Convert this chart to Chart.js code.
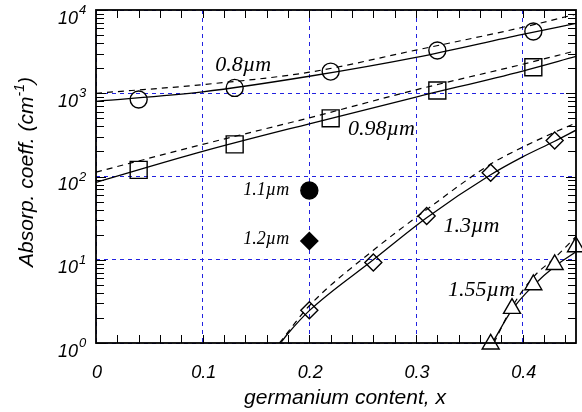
<!DOCTYPE html>
<html><head><meta charset="utf-8">
<script src="https://cdn.jsdelivr.net/npm/chart.js@4/dist/chart.umd.min.js"></script>
<style>html,body{margin:0;padding:0;background:#fff}</style>
</head><body>
<canvas id="c" width="582" height="412"></canvas>
<script>
// ---- data ----
const xTickValues = [0, 0.1, 0.2, 0.3, 0.4];
const xTickLabels = ['0', '0.1', '0.2', '0.3', '0.4'];
const yTickExponents = [0, 1, 2, 3, 4];

// 0.8 um (circles)
const x08 = [0.04, 0.13, 0.22, 0.32, 0.41];
const y08 = [840, 1160, 1820, 3260, 5520];
const x08Solid = [0, 0.1, 0.2, 0.3, 0.4, 0.45];
const y08Solid = [800, 1040, 1600, 2700, 5100, 6900];
const x08Dash = [0, 0.1, 0.2, 0.3, 0.4, 0.45];
const y08Dash = [1000, 1270, 1790, 3300, 6200, 8900];

// 0.98 um (squares)
const x098 = [0.04, 0.13, 0.22, 0.32, 0.41];
const y098 = [120, 243, 500, 1080, 2050];
const x098Solid = [0, 0.1, 0.2, 0.3, 0.4, 0.45];
const y098Solid = [85, 200, 430, 900, 1850, 2770];
const x098Dash = [0, 0.1, 0.2, 0.3, 0.4, 0.45];
const y098Dash = [113, 243, 507, 1100, 2230, 3240];

// 1.1 um and 1.2 um (single filled points)
const x11 = [0.2];
const y11 = [68];
const x12 = [0.2];
const y12 = [16.8];

// 1.3 um (diamonds)
const x13 = [0.2, 0.26, 0.31, 0.37, 0.43];
const y13 = [2.47, 9.25, 33.6, 111, 271];
const x13Solid = [0.173, 0.18, 0.2, 0.26, 0.31, 0.37, 0.4, 0.43, 0.45];
const y13Solid = [1, 1.3, 2.45, 10, 32, 105, 172, 265, 360];
const x13Dash = [0.172, 0.2, 0.26, 0.31, 0.37, 0.4, 0.43, 0.45];
const y13Dash = [1, 2.8, 13, 40, 141, 225, 340, 440];

// 1.55 um (triangles)
const x155 = [0.37, 0.39, 0.41, 0.43, 0.45];
const y155 = [0.97, 2.6, 5.0, 8.75, 14.3];
const x155Solid = [0.3715, 0.39, 0.41, 0.43, 0.45];
const y155Solid = [1, 2.5, 4.9, 8.3, 12.5];
const x155Dash = [0.373, 0.39, 0.41, 0.43, 0.45];
const y155Dash = [1, 2.7, 6.2, 10.5, 19];

// curve labels (text, anchor in data coords)
const labelTexts = ['0.8\u00b5m', '0.98\u00b5m', '1.1\u00b5m', '1.2\u00b5m', '1.3\u00b5m', '1.55\u00b5m'];
const labelX = [0.138, 0.2676, 0.1596, 0.1596, 0.352, 0.3615];
const labelY = [2180, 370, 68.7, 17.4, 25.6, 4.36];
const labelSize = [22, 22, 18, 18, 22, 22];

// ---- helpers ----
const pts = (xs, ys) => xs.map((x, i) => ({x, y: ys[i]}));
const solid = (xs, ys) => ({data: pts(xs, ys), showLine: true, pointRadius: 0, pointHoverRadius: 0,
  borderColor: '#000', borderWidth: 1.3, cubicInterpolationMode: 'monotone', order: 2});
const dashed = (xs, ys) => Object.assign(solid(xs, ys), {borderDash: [6, 5], borderWidth: 1.2});
const marks = (xs, ys, style, r, fill) => ({data: pts(xs, ys), showLine: false, pointStyle: style,
  pointRadius: r, pointHoverRadius: r, borderColor: '#000', pointBorderWidth: 1.4, borderWidth: 1.4,
  backgroundColor: fill, pointBackgroundColor: fill, clip: false, order: 0});

const SANS = '"Liberation Sans", Arial, sans-serif';
const SERIF = '"Liberation Serif", "Times New Roman", serif';

const decor = {
  id: 'decor',
  afterDraw(chart) {
    const ctx = chart.ctx, a = chart.chartArea;
    const xs = chart.scales.x, ys = chart.scales.y;
    ctx.save();
    // frame
    ctx.strokeStyle = '#000';
    ctx.lineWidth = 1.8;
    ctx.setLineDash([]);
    ctx.strokeRect(a.left, a.top, a.right - a.left, a.bottom - a.top);
    // inward ticks
    ctx.lineWidth = 1;
    ctx.beginPath();
    for (let i = 1; i * 0.02 < 0.45 - 1e-9; i++) {
      const px = Math.round(xs.getPixelForValue(i * 0.02)) + 0.5;
      ctx.moveTo(px, a.bottom); ctx.lineTo(px, a.bottom - 8);
      ctx.moveTo(px, a.top); ctx.lineTo(px, a.top + 8);
    }
    for (let d = 0; d < 4; d++) {
      for (let m = 2; m <= 9; m++) {
        const py = Math.round(ys.getPixelForValue(m * Math.pow(10, d))) + 0.5;
        ctx.moveTo(a.left, py); ctx.lineTo(a.left + 8, py);
        ctx.moveTo(a.right, py); ctx.lineTo(a.right - 8, py);
      }
    }
    for (const e of yTickExponents) {
      const py = Math.round(ys.getPixelForValue(Math.pow(10, e))) + 0.5;
      ctx.moveTo(a.left, py); ctx.lineTo(a.left + 10, py);
      ctx.moveTo(a.right, py); ctx.lineTo(a.right - 10, py);
    }
    ctx.stroke();
    ctx.fillStyle = '#000';
    ctx.textBaseline = 'alphabetic';
    // x tick labels
    ctx.font = 'italic 18px ' + SANS;
    ctx.textAlign = 'center';
    xTickValues.forEach((v, i) => {
      ctx.fillText(xTickLabels[i], xs.getPixelForValue(v) + 1, 378);
    });
    // y tick labels 10^n
    for (const e of yTickExponents) {
      const py = ys.getPixelForValue(Math.pow(10, e));
      ctx.font = 'italic 18px ' + SANS;
      ctx.textAlign = 'right';
      ctx.fillText('10', 78, py + 13.5);
      ctx.font = 'italic 13px ' + SANS;
      ctx.textAlign = 'left';
      ctx.fillText(String(e), 79, py + 4);
    }
    // y title
    ctx.save();
    ctx.translate(33, 172);
    ctx.rotate(-Math.PI / 2);
    const big = 'italic 21px ' + SANS, small = 'italic 14px ' + SANS;
    const t1 = 'Absorp. coeff. (cm', t2 = '-1', t3 = ')';
    ctx.font = big;
    const w1 = ctx.measureText(t1).width, w3 = ctx.measureText(t3).width;
    ctx.font = small;
    const w2 = ctx.measureText(t2).width;
    let xx = -(w1 + w2 + w3) / 2;
    ctx.textAlign = 'left';
    ctx.font = big;
    ctx.fillText(t1, xx, 0); xx += w1;
    ctx.font = small;
    ctx.fillText(t2, xx, -9); xx += w2;
    ctx.font = big;
    ctx.fillText(t3, xx, 0);
    ctx.restore();
    // x title
    ctx.font = 'italic 21px ' + SANS;
    ctx.textAlign = 'center';
    ctx.fillText('germanium content, x', 345, 404);
    // curve labels
    ctx.textAlign = 'center';
    ctx.textBaseline = 'middle';
    labelTexts.forEach((t, i) => {
      ctx.font = 'italic ' + labelSize[i] + 'px ' + SERIF;
      ctx.fillText(t, xs.getPixelForValue(labelX[i]), ys.getPixelForValue(labelY[i]));
    });
    ctx.restore();
  }
};

new Chart(document.getElementById('c'), {
  type: 'scatter',
  data: {datasets: [
    marks(x08, y08, 'circle', 8.5, 'rgba(0,0,0,0)'),
    marks(x098, y098, 'rect', 12, 'rgba(0,0,0,0)'),
    marks(x11, y11, 'circle', 8.5, '#000'),
    marks(x12, y12, 'rectRot', 8.5, '#000'),
    marks(x13, y13, 'rectRot', 8.5, 'rgba(0,0,0,0)'),
    marks(x155, y155, 'triangle', 9.8, '#fff'),
    solid(x08Solid, y08Solid), dashed(x08Dash, y08Dash),
    solid(x098Solid, y098Solid), dashed(x098Dash, y098Dash),
    solid(x13Solid, y13Solid), dashed(x13Dash, y13Dash),
    solid(x155Solid, y155Solid), dashed(x155Dash, y155Dash)
  ]},
  options: {
    responsive: false, animation: false, events: [],
    layout: {autoPadding: false, padding: {top: 10, right: 6, left: 0, bottom: 0}},
    plugins: {legend: {display: false}, tooltip: {enabled: false}},
    scales: {
      x: {
        type: 'linear', min: 0, max: 0.45,
        afterBuildTicks(s) { s.ticks = xTickValues.map(v => ({value: v})); },
        afterFit(s) { s.height = 69; s.paddingLeft = 0; s.paddingRight = 0; },
        grid: {color: '#2222e0', lineWidth: 1, drawTicks: false},
        border: {display: false, dash: [4, 4]},
        ticks: {display: false}
      },
      y: {
        type: 'logarithmic', min: 1, max: 10000,
        afterBuildTicks(s) { s.ticks = yTickExponents.map(e => ({value: Math.pow(10, e)})); },
        afterFit(s) { s.width = 96; s.paddingTop = 0; s.paddingBottom = 0; },
        grid: {color: '#2222e0', lineWidth: 1, drawTicks: false},
        border: {display: false, dash: [4, 4]},
        ticks: {display: false}
      }
    }
  },
  plugins: [decor]
});
</script>
</body></html>
